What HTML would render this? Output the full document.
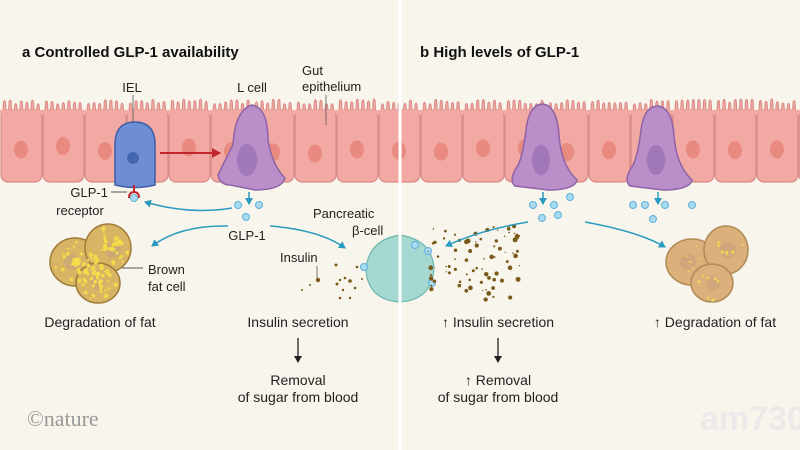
<!DOCTYPE html>
<html><head><meta charset="utf-8"><style>
html,body{margin:0;padding:0;background:#f8f5ec;}
svg{display:block;font-family:"Liberation Sans",sans-serif;}
</style></head><body>
<svg id="s" width="800" height="450" viewBox="0 0 800 450" xmlns="http://www.w3.org/2000/svg">
<defs>
<marker id="ab" markerWidth="8" markerHeight="8" refX="6" refY="4" orient="auto" markerUnits="userSpaceOnUse"><path d="M0,0 L7,4 L0,8 Z" fill="#2a9bc0"/></marker>
<marker id="ar" markerWidth="10" markerHeight="10" refX="8" refY="5" orient="auto" markerUnits="userSpaceOnUse"><path d="M0,0 L9,5 L0,10 Z" fill="#c0272d"/></marker>
<marker id="ak" markerWidth="8" markerHeight="10" refX="6" refY="5" orient="auto" markerUnits="userSpaceOnUse"><path d="M0,1 L7,5 L0,9 Z" fill="#222"/></marker>
</defs>
<rect width="800" height="450" fill="#f8f5ec"/>
<g id="epi"></g>
<line x1="400" y1="0" x2="400" y2="450" stroke="#fff" stroke-width="3"/>

<text x="22" y="57" font-size="15" font-weight="bold" fill="#111">a  Controlled GLP-1 availability</text>
<text x="420" y="57" font-size="15" font-weight="bold" fill="#111">b  High levels of GLP-1</text>

<path d="M115,185 L115,145 Q115,122 135,122 Q155,122 155,145 L155,185 Q135,190 115,185Z" fill="#6d8ed4" stroke="#3d5fa6" stroke-width="1.5"/>
<circle cx="133" cy="158" r="6" fill="#4467b0"/>
<path d="M230,185 Q220,185 218,175 Q225,160 233,145 Q235,110 252,105 Q268,108 268,140 Q272,165 285,178 Q282,190 255,190 Z" fill="#b98ec9" stroke="#8e63a6" stroke-width="1.5"/>
<ellipse cx="247" cy="160" rx="10" ry="16" fill="#a077b8"/>
<line x1="160" y1="153" x2="220" y2="153" stroke="#c0272d" stroke-width="2" marker-end="url(#ar)"/>
<line x1="134" y1="185" x2="134" y2="193" stroke="#c0272d" stroke-width="2"/>
<path d="M129,198 Q129,192 134,192 Q139,192 139,198" fill="none" stroke="#c0272d" stroke-width="2"/>
<circle cx="134" cy="198" r="3.5" fill="#a9dbf3" stroke="#5fb1d8"/>
<line x1="111" y1="192" x2="127" y2="192" stroke="#555"/>
<text x="108" y="197" font-size="13" text-anchor="end" fill="#222">GLP-1</text>
<text x="80" y="215" font-size="13" text-anchor="middle" fill="#222">receptor</text>
<text x="132" y="92" font-size="13" text-anchor="middle" fill="#222">IEL</text>
<line x1="133" y1="95" x2="133" y2="122" stroke="#555" stroke-width="0.8"/>
<text x="252" y="92" font-size="13" text-anchor="middle" fill="#222">L cell</text>
<text x="302" y="75" font-size="13" fill="#222">Gut</text>
<text x="302" y="91" font-size="13" fill="#222">epithelium</text>
<line x1="326" y1="95" x2="326" y2="125" stroke="#555" stroke-width="0.8"/>
<line x1="249" y1="192" x2="249" y2="204" stroke="#2a9bc0" stroke-width="1.5" marker-end="url(#ab)"/>
<g fill="#a9dbf3" stroke="#5fb1d8"><circle cx="238" cy="205" r="3.5"/><circle cx="259" cy="205" r="3.5"/><circle cx="246" cy="217" r="3.5"/></g>
<path d="M232,208 Q190,215 145,202" fill="none" stroke="#2a9bc0" stroke-width="1.5" marker-end="url(#ab)"/>
<path d="M228,226 Q180,225 152,246" fill="none" stroke="#2a9bc0" stroke-width="1.5" marker-end="url(#ab)"/>
<path d="M270,226 Q320,230 345,248" fill="none" stroke="#2a9bc0" stroke-width="1.5" marker-end="url(#ab)"/>
<text x="247" y="240" font-size="13" text-anchor="middle" fill="#222">GLP-1</text>
<text x="313" y="218" font-size="13" fill="#222">Pancreatic</text>
<text x="352" y="235" font-size="13" fill="#222">β-cell</text>
<text x="280" y="262" font-size="13" fill="#222">Insulin</text>
<line x1="317" y1="266" x2="317" y2="279" stroke="#555" stroke-width="0.8"/>

<g stroke="#a07c3a" stroke-width="1.5" fill="#d8b465">
<ellipse cx="75" cy="262" rx="25" ry="24"/>
<ellipse cx="108" cy="248" rx="23" ry="24"/>
<ellipse cx="98" cy="283" rx="22" ry="20"/>
</g>
<g fill="#c9a67a" opacity="0.7"><circle cx="72" cy="262" r="8"/><circle cx="113" cy="250" r="8"/><circle cx="98" cy="283" r="7"/></g>
<g id="yd"></g>
<line x1="122" y1="268" x2="143" y2="268" stroke="#555"/>
<text x="148" y="274" font-size="13" fill="#222">Brown</text>
<text x="148" y="291" font-size="13" fill="#222">fat cell</text>
<text x="100" y="327" font-size="14" text-anchor="middle" fill="#222">Degradation of fat</text>
<text x="298" y="327" font-size="14" text-anchor="middle" fill="#222">Insulin secretion</text>
<line x1="298" y1="338" x2="298" y2="362" stroke="#222" stroke-width="1.3" marker-end="url(#ak)"/>
<text x="298" y="385" font-size="14" text-anchor="middle" fill="#222">Removal</text>
<text x="298" y="402" font-size="14" text-anchor="middle" fill="#222">of sugar from blood</text>
<text x="27" y="426" font-size="22" fill="#999" font-family="Liberation Serif,serif">©nature</text>

<path d="M400,235 Q368,240 366,270 Q368,300 400,302 Q432,300 434,268 Q432,240 400,235Z" fill="#a5d8d0" stroke="#6bb8b0" stroke-width="1.2"/>
<line x1="400" y1="230" x2="400" y2="306" stroke="#fff" stroke-width="3"/>
<g fill="#a9dbf3" stroke="#5fb1d8"><circle cx="364" cy="267" r="3.5"/><circle cx="415" cy="245" r="3.5"/><circle cx="428" cy="251" r="3.5"/><circle cx="432" cy="283" r="3.5"/></g>
<g id="ins" fill="#7a5a1a"></g>

<g id="rl"></g>
<text x="498" y="327" font-size="14" text-anchor="middle" fill="#222">↑ Insulin secretion</text>
<text x="715" y="327" font-size="14" text-anchor="middle" fill="#222">↑ Degradation of fat</text>
<line x1="498" y1="338" x2="498" y2="362" stroke="#222" stroke-width="1.3" marker-end="url(#ak)"/>
<text x="498" y="385" font-size="14" text-anchor="middle" fill="#222">↑ Removal</text>
<text x="498" y="402" font-size="14" text-anchor="middle" fill="#222">of sugar from blood</text>
<path d="M528,222 Q480,230 446,246" fill="none" stroke="#2a9bc0" stroke-width="1.5" marker-end="url(#ab)"/>
<path d="M585,222 Q640,232 665,247" fill="none" stroke="#2a9bc0" stroke-width="1.5" marker-end="url(#ab)"/>
<g stroke="#b08a55" stroke-width="1.5" fill="#dbb07a">
<ellipse cx="692" cy="262" rx="26" ry="23"/>
<ellipse cx="726" cy="250" rx="22" ry="24"/>
<ellipse cx="712" cy="283" rx="21" ry="19"/>
</g>
<g fill="#c9a07a" opacity="0.6"><circle cx="688" cy="262" r="8"/><circle cx="728" cy="250" r="8"/><circle cx="713" cy="283" r="7"/></g>
<g id="yd2"></g>
<text x="700" y="430" font-size="34" font-weight="bold" fill="#e8e8e8" opacity="0.8">am730</text>
</svg>
<script>
const NS="http://www.w3.org/2000/svg";
function el(p,t,a){const e=document.createElementNS(NS,t);for(const k in a)e.setAttribute(k,a[k]);p.appendChild(e);return e;}
const epi=document.getElementById('epi');
let seed=3;function r(){seed=(seed*9301+49297)%233280;return seed/233280;}
for(let x=0;x<800;x+=42){
  el(epi,'rect',{x:x+1,y:110,width:41,height:72,rx:7,fill:'#f2a9a3',stroke:'#d98a85','stroke-width':1.2});
  let d='M'+(x+2)+',112';
  for(let i=0;i<7;i++){const xx=x+3+i*5.6;const h=99+r()*5;d+=' L'+xx+',111 L'+(xx+0.5)+','+(h+1.5)+' Q'+(xx+1.5)+','+(h-1.5)+' '+(xx+2.5)+','+(h+1.5)+' L'+(xx+3)+',111';}
  el(epi,'path',{d:d,fill:'#f2a9a3',stroke:'#d98a85','stroke-width':1});
  el(epi,'ellipse',{cx:x+21,cy:146+r()*8,rx:7,ry:9,fill:'#e98a80'});
}
el(epi,'rect',{x:0,y:110,width:800,height:4,fill:'#f2a9a3'});
const rl=document.getElementById('rl');
[[543,104],[658,106]].forEach(([cx,t])=>{
  el(rl,'path',{d:`M${cx-28},186 Q${cx-35},180 ${cx-25},165 Q${cx-20},155 ${cx-17},130 Q${cx-14},${t} ${cx},${t} Q${cx+14},${t+2} ${cx+16},135 Q${cx+18},165 ${cx+34},180 Q${cx+32},190 ${cx+5},190 Z`,fill:'#b98ec9',stroke:'#8e63a6','stroke-width':1.5});
  el(rl,'ellipse',{cx:cx-2,cy:160,rx:9,ry:15,fill:'#a077b8'});
  el(rl,'line',{x1:cx,y1:192,x2:cx,y2:204,stroke:'#2a9bc0','stroke-width':1.5,'marker-end':'url(#ab)'});
});
[[533,205],[554,205],[570,197],[542,218],[558,215],[633,205],[645,205],[665,205],[692,205],[653,219]].forEach(([x,y])=>el(rl,'circle',{cx:x,cy:y,r:3.5,fill:'#a9dbf3',stroke:'#5fb1d8'}));
const ins=document.getElementById('ins');
[[302,290,1],[310,285,1],[318,280,2.2],[336,265,1.5],[337,284,1.5],[340,280,1.2],[345,278,1.3],[350,281,1.8],[343,290,1.2],[340,298,1.3],[350,298,1.2],[357,267,1.3],[362,279,1],[355,288,1.3]].forEach(([x,y,rr])=>el(ins,'circle',{cx:x,cy:y,r:rr}));
for(let i=0;i<80;i++)el(ins,'circle',{cx:428+r()*95,cy:225+r()*75,r:0.6+r()*1.9});
const yd=document.getElementById('yd');
for(let i=0;i<120;i++){const a=r()*6.28,c=[[75,262,22],[108,248,20],[98,283,18]][i%3],rr=r()*c[2];el(yd,'circle',{cx:c[0]+Math.cos(a)*rr,cy:c[1]+Math.sin(a)*rr,r:1+r()*1.2,fill:'#f3dc4a'});}
const yd2=document.getElementById('yd2');
for(let i=0;i<20;i++){const a=r()*6.28,c=[[692,262,22],[726,250,19],[712,283,17]][i%3],rr=r()*c[2];el(yd2,'circle',{cx:c[0]+Math.cos(a)*rr,cy:c[1]+Math.sin(a)*rr,r:0.8+r()*0.8,fill:'#efd65a'});}
</script>
</body></html>
